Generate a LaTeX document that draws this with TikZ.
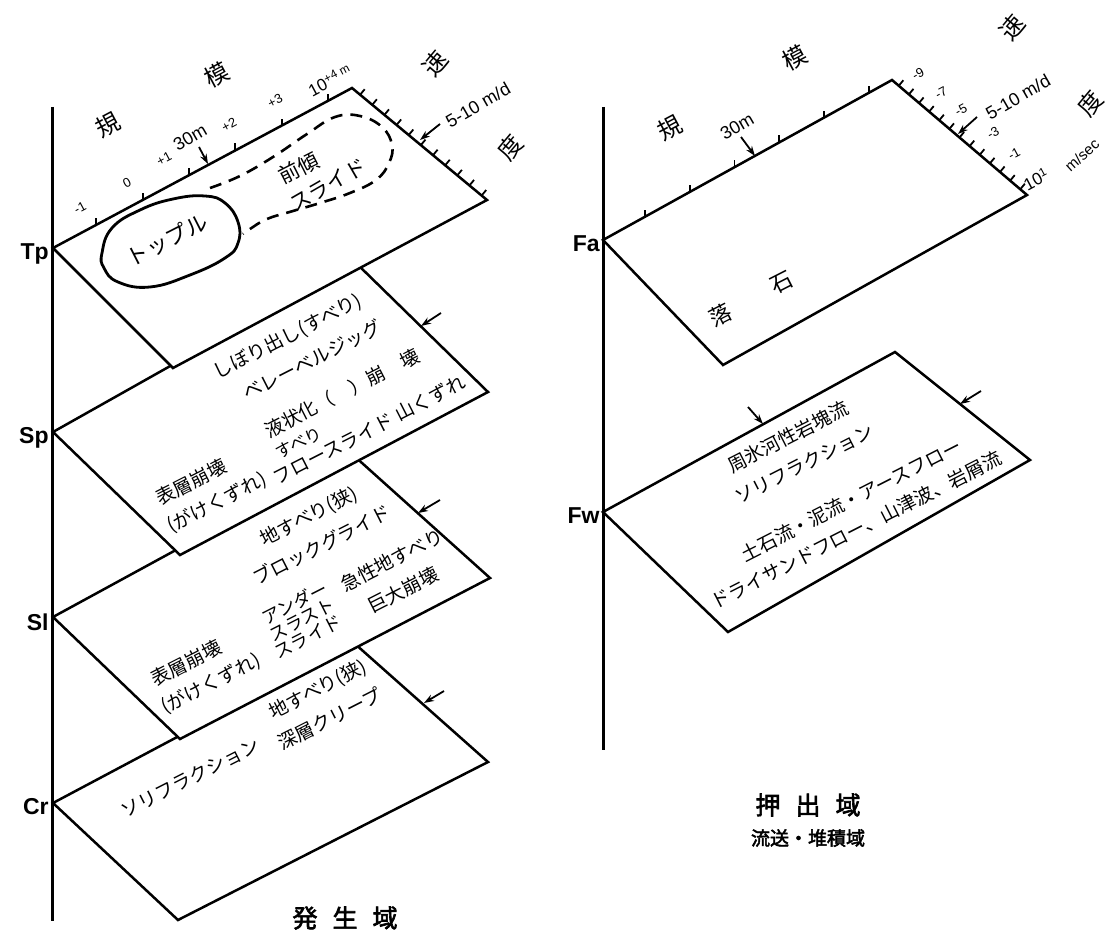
\documentclass[tikz,border=0pt]{standalone}
\usepackage{fontspec}
\setmainfont{Liberation Sans}
\newfontfamily\jp[AutoFakeBold=2.5]{Noto Sans CJK JP}
\usetikzlibrary{arrows.meta,calc}
\begin{document}
\begin{tikzpicture}[x=0.5pt,y=-0.5pt,
  axisline/.style={line width=1.5pt},
  panel/.style={line width=1.25pt, line join=miter, fill=white},
  tickmark/.style={line width=0.9pt},
  ptxt/.style={font=\jp\fontsize{9.5}{11}\selectfont, rotate=27, inner sep=0pt},
  axtxt/.style={font=\jp\fontsize{12}{14}\selectfont, inner sep=0pt},
  numtxt/.style={font=\fontsize{6.5}{7}\selectfont, rotate=28, inner sep=0pt},
  unittxt/.style={font=\fontsize{9}{10}\selectfont, rotate=30, inner sep=0pt},
  lbl/.style={font=\bfseries\fontsize{11.5}{12}\selectfont, inner sep=0pt, anchor=east},
  ptr/.style={line width=0.9pt, -{Stealth[length=5pt,width=3.5pt]}},
  ttl/.style={font=\jp\bfseries\fontsize{12.5}{14}\selectfont, inner sep=0pt},
]
\useasboundingbox (0,0) rectangle (1107,946);

% panel corners
\coordinate (TpL) at (53,248); \coordinate (TpT) at (352,88); \coordinate (TpR) at (487,200); \coordinate (TpB) at (173,368);
\coordinate (SpL) at (53,432); \coordinate (SpT) at (355,262); \coordinate (SpR) at (488,392); \coordinate (SpB) at (180,555);
\coordinate (SlL) at (53,617); \coordinate (SlT) at (352,454); \coordinate (SlR) at (490,578); \coordinate (SlB) at (180,739);
\coordinate (CrL) at (53,803); \coordinate (CrT) at (354,643); \coordinate (CrR) at (488,762); \coordinate (CrB) at (178,920);
\coordinate (FaL) at (603,240); \coordinate (FaT) at (892,80); \coordinate (FaR) at (1027,195); \coordinate (FaB) at (723,365);
\coordinate (FwL) at (603,512); \coordinate (FwT) at (895,352); \coordinate (FwR) at (1030,460); \coordinate (FwB) at (728,632);

\filldraw[panel] (CrL) -- (CrT) -- (CrR) -- (CrB) -- cycle;
\filldraw[panel] (SlL) -- (SlT) -- (SlR) -- (SlB) -- cycle;
\filldraw[panel] (SpL) -- (SpT) -- (SpR) -- (SpB) -- cycle;
\filldraw[panel] (TpL) -- (TpT) -- (TpR) -- (TpB) -- cycle;
\filldraw[panel] (FaL) -- (FaT) -- (FaR) -- (FaB) -- cycle;
\filldraw[panel] (FwL) -- (FwT) -- (FwR) -- (FwB) -- cycle;

% axes
\coordinate (ax1t) at (52,107); \coordinate (ax1b) at (52,921);
\coordinate (ax2t) at (603,107); \coordinate (ax2b) at (603,750);
\draw[axisline] (ax1t) -- (ax1b);
\draw[axisline] (ax2t) -- (ax2b);

% ticks
\foreach \t in {0.145,0.3,0.455,0.61,0.765,0.92}{
  \draw[tickmark] ($(TpL)!\t!(TpT)$) -- ++(0,-7);
  \draw[tickmark] ($(FaL)!\t!(FaT)$) -- ++(0,-7);
}
\foreach \t in {0.06,0.15,0.24,0.33,0.42,0.51,0.6,0.69,0.78,0.87,0.96}
  \draw[tickmark] ($(TpT)!\t!(TpR)$) -- ++(4.6,-5.5);
\foreach \t in {0.05,0.125,0.2,0.275,0.35,0.425,0.5,0.575,0.65,0.725,0.8,0.875,0.95}
  \draw[tickmark] ($(FaT)!\t!(FaR)$) -- ++(4.6,-5.5);

% blobs in Tp
\draw[line width=1.3pt, dash pattern=on 6pt off 4pt] plot[smooth, tension=0.7] coordinates {(210,188) (240,176) (273,157) (307,134) (335,117) (360,116) (382,127) (392,145) (389,163) (376,180) (350,193) (320,203) (293,211) (267,219) (250,229) (243,234)};
\draw[line width=1.4pt, fill=white] plot[smooth cycle, tension=0.75] coordinates {(102,253) (112,228) (140,210) (173,199) (205,196) (225,203) (238,222) (238,243) (225,258) (190,275) (150,287) (118,282) (104,268)};

% row labels
\node[lbl] (lTp) at (49,254) {Tp};
\node[lbl] (lSp) at (49,438) {Sp};
\node[lbl] (lSl) at (49,622) {Sl};
\node[lbl] (lCr) at (49,807) {Cr};
\node[lbl] (lFa) at (600,244) {Fa};
\node[lbl] (lFw) at (600,516) {Fw};

% left scale
\node[numtxt] (nm1) at (80,208) {-1};
\node[numtxt] (n0) at (127,183) {0};
\node[numtxt] (np1) at (164,159) {+1};
\node[numtxt] (np2) at (229,125) {+2};
\node[numtxt] (np3) at (275,101) {+3};
\node[numtxt, font=\fontsize{8.5}{9}\selectfont] (np4) at (330,80) {10\textsuperscript{+4}\,\textsuperscript{m}};
\node[unittxt] (l30) at (190,137) {30m};
\coordinate (a30s) at (199,147); \coordinate (a30e) at (208,164);
\draw[ptr] (a30s) -- (a30e);
\node[axtxt, rotate=28] (kiL) at (108,125) {規};
\node[axtxt, rotate=28] (moL) at (217,75) {模};
\node[axtxt, rotate=50] (soL) at (435,63) {速};
\node[axtxt, rotate=50] (doL) at (510,147) {度};
\node[unittxt] (v1) at (478,105) {5-10 m/d};
\coordinate (va1s) at (440,124); \coordinate (va1e) at (420,140);
\draw[ptr] (va1s) -- (va1e);

% right scale
\node[unittxt] (r30) at (737,126) {30m};
\coordinate (b30s) at (741,137); \coordinate (b30e) at (755,156);
\draw[ptr] (b30s) -- (b30e);
\node[axtxt, rotate=28] (kiR) at (670,128) {規};
\node[axtxt, rotate=28] (moR) at (795,58) {模};
\node[axtxt, rotate=50] (soR) at (1012,27) {速};
\node[axtxt, rotate=50] (doR) at (1090,103) {度};
\node[numtxt] (q9) at (918,74) {-9};
\node[numtxt] (q7) at (941,93) {-7};
\node[numtxt] (q5) at (961,110) {-5};
\node[numtxt] (q3) at (993,133) {-3};
\node[numtxt] (q1) at (1014,154) {-1};
\node[numtxt, font=\fontsize{8.5}{9}\selectfont] (q10) at (1036,179) {10\textsuperscript{1}};
\node[numtxt, rotate=14, font=\fontsize{7.5}{8}\selectfont] (qms) at (1082,155) {m/sec};
\node[unittxt] (v2) at (1018,97) {5-10 m/d};
\coordinate (vb1s) at (977,117); \coordinate (vb1e) at (958,134);
\draw[ptr] (vb1s) -- (vb1e);

% Tp texts
\node[ptxt, font=\jp\fontsize{11}{12}\selectfont] (tp1) at (167,240) {トップル};
\node[ptxt, font=\jp\fontsize{10.5}{12}\selectfont] (tp2) at (299,168) {前傾};
\node[ptxt, font=\jp\fontsize{10.5}{12}\selectfont, rotate=3] (tp3) at (328,185) {スライド};

% Sp texts
\node[ptxt] (sp1) at (288,337) {しぼり出し(すべり)};
\node[ptxt] (sp2) at (312,360) {ベレーベルジッグ};
\node[ptxt] (sp3) at (342,393) {液状化（　）崩　壊};
\node[ptxt, font=\jp\fontsize{8.5}{10}\selectfont] (sp4) at (299,443) {すべり};
\node[ptxt] (sp5) at (333,449) {フロースライド};
\node[ptxt] (sp6) at (430,398) {山くずれ};
\node[ptxt] (sp7) at (191,482) {表層崩壊};
\node[ptxt] (sp8) at (217,503) {(がけくずれ)};
\coordinate (sparS) at (441,313); \coordinate (sparE) at (421,326);
\draw[ptr] (sparS) -- (sparE);

% Sl texts
\node[ptxt] (sl1) at (309,517) {地すべり(狭)};
\node[ptxt] (sl2) at (322,545) {ブロックグライド};
\node[ptxt, font=\jp\fontsize{9}{10}\selectfont] (sl3) at (295,603) {アンダー};
\node[ptxt, font=\jp\fontsize{9}{10}\selectfont] (sl4) at (302,620) {スラスト};
\node[ptxt, font=\jp\fontsize{9}{10}\selectfont] (sl5) at (308,637) {スライド};
\node[ptxt] (sl6) at (392,560) {急性地すべり};
\node[ptxt] (sl7) at (403,590) {巨大崩壊};
\node[ptxt] (sl8) at (186,663) {表層崩壊};
\node[ptxt] (sl9) at (211,684) {(がけくずれ)};
\coordinate (slarS) at (440,500); \coordinate (slarE) at (418,513);
\draw[ptr] (slarS) -- (slarE);

% Cr texts
\node[ptxt] (cr1) at (190,778) {ソリフラクション};
\node[ptxt] (cr2) at (318,690) {地すべり(狭)};
\node[ptxt] (cr3) at (330,719) {深層クリープ};
\coordinate (crarS) at (444,691); \coordinate (crarE) at (424,703);
\draw[ptr] (crarS) -- (crarE);

% Fa / Fw texts
\node[ptxt, font=\jp\fontsize{11}{12}\selectfont] (fa1) at (720,315) {落};
\node[ptxt, font=\jp\fontsize{11}{12}\selectfont] (fa2) at (782,283) {石};
\node[ptxt] (fw1) at (788,437) {周氷河性岩塊流};
\node[ptxt] (fw2) at (804,464) {ソリフラクション};
\node[ptxt] (fw3) at (851,500) {土石流・泥流・アースフロー};
\node[ptxt] (fw4) at (856,530) {ドライサンドフロー、山津波、岩屑流};
\coordinate (fwa1s) at (748,407); \coordinate (fwa1e) at (763,424);
\draw[ptr] (fwa1s) -- (fwa1e);
\coordinate (fwa2s) at (981,391); \coordinate (fwa2e) at (960,404);
\draw[ptr] (fwa2s) -- (fwa2e);

% titles
\node[ttl] (hassei) at (345,918) {発\hspace{0.6em}生\hspace{0.6em}域};
\node[ttl] (oshide) at (808,805) {押\hspace{0.6em}出\hspace{0.6em}域};
\node[ttl, font=\jp\bfseries\fontsize{9.5}{11}\selectfont] (ryuso) at (808,838) {流送・堆積域};
\end{tikzpicture}
\end{document}
